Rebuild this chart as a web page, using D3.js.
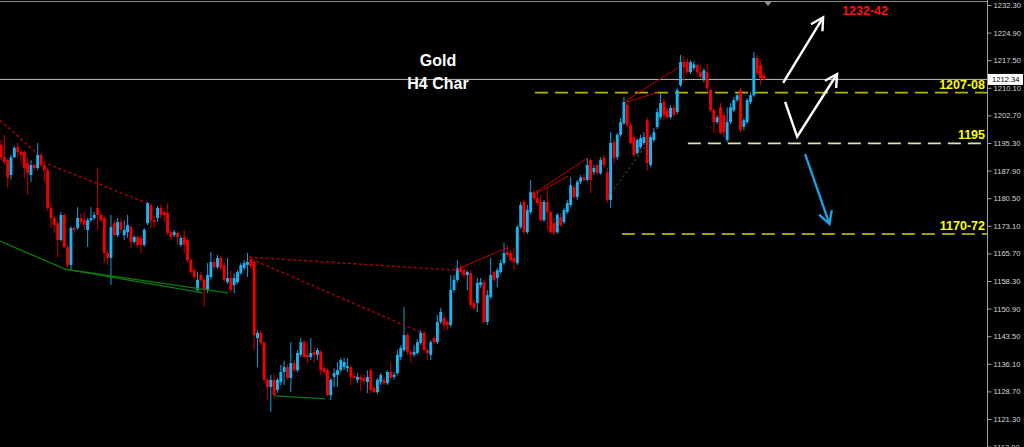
<!DOCTYPE html>
<html><head><meta charset="utf-8">
<script src="https://cdn.jsdelivr.net/npm/d3@7"></script>
<style>html,body{margin:0;padding:0;background:#000;overflow:hidden}svg{display:block}</style>
</head><body><svg id="c" width="1024" height="447"></svg>
<script>
// ---- Gold H4 candles ----
const open = [1194.8,1191.5,1190.7,1186.7,1191.5,1194.2,1192.9,1192.9,1189.9,1186.7,1189.4,1188.6,1192.1,1189.4,1188.0,1177.9,1175.2,1173.8,1169.3,1176.0,
1167.4,1162.6,1172.5,1172.5,1175.2,1174.6,1172.0,1174.6,1175.2,1177.9,1176.0,1175.2,1165.8,1164.5,1173.8,1170.6,1174.1,1170.6,1171.4,1172.8,
1168.8,1170.1,1169.8,1168.0,1173.8,1178.7,1174.6,1175.2,1177.9,1176.8,1176.5,1171.4,1170.6,1171.2,1168.0,1170.1,1169.3,1163.9,1161.2,1155.9,
1159.9,1158.6,1155.9,1159.4,1163.4,1162.0,1164.5,1162.6,1158.0,1159.1,1157.2,1158.0,1160.4,1161.8,1162.6,1163.9,1163.4,1143.0,1144.4,1141.7,
1131.8,1129.9,1131.8,1129.1,1131.2,1133.9,1135.2,1132.3,1136.3,1134.4,1138.5,1141.9,1138.5,1137.9,1139.3,1138.5,1139.3,1134.9,1134.4,1127.7,
1132.6,1133.1,1134.4,1135.2,1134.9,1135.2,1132.8,1131.8,1132.6,1132.3,1131.2,1134.4,1129.6,1128.5,1131.2,1131.8,1130.9,1133.9,1132.6,1133.6,
1137.9,1139.8,1143.8,1139.3,1138.5,1139.0,1141.7,1144.4,1139.8,1138.5,1143.0,1141.9,1147.3,1148.4,1147.3,1146.5,1155.9,1158.6,1161.8,1161.2,
1159.9,1160.4,1152.4,1152.4,1157.2,1158.0,1147.3,1154.0,1160.7,1159.1,1160.7,1163.1,1166.1,1165.8,1164.5,1163.1,1172.8,1179.5,1171.4,1176.8,
1182.1,1180.5,1179.5,1174.6,1179.5,1176.8,1173.8,1171.4,1175.4,1174.1,1176.8,1178.7,1183.5,1180.8,1184.9,1186.1,1185.4,1190.7,1187.5,1189.4,
1187.2,1191.3,1187.5,1180.0,1195.5,1191.5,1197.5,1200.6,1205.5,1200.1,1196.9,1192.6,1194.2,1195.3,1201.4,1189.4,1196.1,1199.6,1202.2,1206.3,
1204.1,1202.2,1204.7,1203.6,1210.8,1217.0,1217.0,1214.3,1215.4,1216.2,1214.3,1212.2,1214.3,1209.5,1204.1,1200.9,1204.9,1202.8,1196.1,1200.9,
1204.1,1206.8,1209.5,1199.6,1200.9,1206.3,1208.1,1218.1,1216.2,1213.5];
const high = [1196.1,1197.5,1191.3,1192.1,1194.5,1195.3,1193.4,1193.4,1191.3,1190.7,1189.9,1195.3,1192.6,1189.9,1188.6,1179.5,1175.7,1174.3,1176.8,1176.5,
1168.0,1173.0,1173.0,1178.1,1176.5,1176.8,1175.2,1178.1,1176.8,1188.6,1176.5,1175.7,1166.6,1176.0,1174.6,1175.2,1175.2,1174.6,1176.0,1173.3,
1170.6,1170.6,1170.4,1172.5,1179.5,1179.2,1176.0,1178.4,1178.9,1177.3,1179.2,1172.0,1172.0,1171.7,1170.4,1172.0,1169.8,1164.5,1161.8,1160.7,
1160.7,1159.1,1163.1,1166.1,1164.5,1165.3,1165.0,1163.4,1164.5,1161.2,1160.4,1161.2,1163.1,1163.9,1165.8,1164.7,1163.9,1145.2,1144.9,1142.2,
1132.3,1133.1,1133.1,1132.3,1135.8,1136.9,1136.0,1141.9,1137.1,1139.8,1143.0,1142.5,1141.7,1143.0,1140.6,1140.3,1139.8,1135.8,1134.9,1132.3,
1134.9,1136.6,1137.7,1137.7,1137.7,1135.8,1133.9,1133.6,1133.1,1133.1,1134.4,1134.9,1130.4,1132.3,1133.6,1132.6,1134.4,1136.3,1133.9,1139.8,
1141.1,1151.3,1144.4,1139.8,1141.1,1142.7,1145.2,1144.9,1140.3,1142.5,1143.6,1149.2,1151.1,1149.7,1147.8,1159.9,1159.9,1163.9,1162.6,1162.3,
1161.2,1161.2,1153.2,1159.1,1159.1,1158.6,1155.9,1164.5,1161.2,1161.8,1163.9,1168.5,1168.0,1166.6,1167.2,1173.3,1179.5,1180.0,1178.7,1185.4,
1182.7,1182.7,1181.4,1180.0,1183.3,1177.3,1175.2,1176.5,1176.5,1177.9,1180.0,1186.1,1184.0,1185.4,1186.7,1187.0,1191.3,1191.3,1189.4,1189.9,
1191.5,1192.1,1188.6,1198.2,1196.6,1198.0,1202.0,1207.6,1206.8,1200.9,1197.7,1196.6,1197.5,1198.2,1202.2,1197.5,1199.3,1204.7,1208.7,1207.3,
1204.9,1205.5,1205.5,1210.0,1218.9,1218.6,1218.1,1217.5,1217.3,1216.7,1216.2,1215.4,1216.4,1210.0,1204.7,1202.8,1206.0,1203.6,1204.9,1206.0,
1207.6,1208.7,1210.0,1202.0,1207.3,1208.9,1219.7,1218.9,1217.5,1214.3];
const low = [1190.7,1189.4,1183.3,1185.6,1191.3,1191.3,1189.9,1185.9,1181.4,1184.9,1188.0,1188.0,1188.8,1184.9,1177.3,1172.5,1171.2,1164.7,1168.8,1167.2,
1162.0,1161.2,1171.2,1172.0,1173.3,1172.0,1167.4,1174.1,1174.6,1172.0,1174.1,1163.1,1162.6,1157.2,1170.1,1170.1,1171.2,1169.3,1169.8,1167.2,
1168.2,1167.4,1165.8,1167.4,1173.3,1172.5,1172.5,1174.1,1175.2,1174.1,1170.6,1169.5,1170.1,1168.0,1167.4,1165.8,1163.4,1160.2,1158.6,1155.1,
1158.0,1151.6,1155.1,1158.8,1161.2,1161.5,1161.2,1157.8,1157.5,1155.1,1155.1,1157.5,1159.9,1161.2,1159.4,1161.8,1139.8,1135.2,1141.1,1130.9,
1126.4,1123.2,1126.9,1128.3,1130.4,1130.4,1131.8,1128.5,1133.9,1133.9,1137.9,1137.7,1136.3,1137.1,1136.3,1137.1,1133.1,1133.1,1127.5,1126.4,
1129.9,1129.9,1133.9,1134.4,1133.9,1130.4,1131.8,1130.9,1128.8,1130.4,1128.3,1128.3,1128.3,1128.0,1130.4,1130.4,1130.4,1131.8,1131.8,1133.1,
1137.1,1139.3,1138.5,1136.3,1137.9,1138.5,1141.1,1139.3,1137.1,1137.1,1141.4,1141.4,1146.8,1145.2,1145.2,1146.0,1155.3,1158.0,1159.9,1159.1,
1155.9,1151.1,1150.5,1150.0,1156.4,1147.0,1146.5,1153.5,1158.0,1156.7,1160.2,1162.6,1164.7,1163.4,1161.2,1162.6,1172.2,1170.6,1170.9,1176.2,
1180.0,1178.7,1174.1,1174.1,1172.0,1170.9,1170.6,1170.9,1172.8,1173.6,1176.2,1178.1,1180.3,1180.0,1184.3,1184.9,1184.9,1181.9,1186.7,1186.7,
1186.7,1188.6,1179.2,1177.9,1189.9,1190.7,1196.9,1200.1,1199.6,1194.8,1191.5,1192.1,1193.7,1194.8,1188.0,1188.8,1195.5,1199.0,1201.7,1201.4,
1201.7,1201.7,1202.2,1203.0,1210.3,1211.6,1213.8,1213.8,1214.8,1213.8,1212.4,1211.6,1209.5,1203.6,1198.0,1200.4,1197.5,1196.9,1195.5,1200.4,
1203.6,1206.3,1198.2,1198.8,1200.4,1205.7,1207.6,1213.5,1210.8,1212.2];
const close = [1191.5,1190.2,1186.1,1191.5,1194.0,1192.9,1192.1,1188.6,1187.2,1189.4,1188.6,1192.1,1189.4,1188.0,1177.9,1175.2,1173.3,1169.3,1176.0,1167.4,
1162.6,1172.5,1172.0,1175.2,1174.1,1173.3,1174.6,1175.2,1176.0,1176.0,1174.6,1165.8,1164.5,1172.8,1170.6,1174.1,1172.0,1172.0,1173.3,1168.8,
1170.1,1168.0,1168.0,1172.0,1179.2,1174.6,1174.1,1177.9,1176.0,1176.0,1171.2,1170.1,1171.4,1170.1,1169.8,1168.0,1163.9,1160.7,1159.4,1158.6,
1158.6,1155.9,1159.9,1163.4,1162.0,1164.5,1161.8,1158.6,1159.1,1155.9,1159.1,1160.7,1162.6,1163.1,1163.4,1162.3,1143.8,1144.4,1141.7,1131.8,
1129.9,1131.8,1127.7,1131.8,1133.9,1135.2,1132.3,1136.3,1134.4,1139.0,1141.9,1137.9,1137.9,1139.0,1138.5,1139.8,1134.4,1133.9,1127.7,1131.8,
1133.6,1134.4,1137.1,1136.6,1135.5,1132.6,1132.3,1132.6,1131.8,1131.5,1132.6,1129.1,1128.5,1131.8,1133.1,1130.9,1133.9,1132.3,1133.1,1138.5,
1140.3,1143.8,1139.3,1138.5,1139.3,1141.9,1144.4,1139.8,1139.0,1141.9,1141.9,1147.3,1150.0,1146.5,1146.5,1155.9,1158.6,1161.8,1160.7,1159.9,
1160.7,1151.9,1151.1,1157.8,1158.0,1147.3,1154.5,1159.9,1158.6,1161.2,1163.1,1165.8,1165.3,1163.9,1163.4,1172.8,1178.7,1171.4,1177.3,1182.1,
1180.5,1179.2,1174.6,1179.5,1176.8,1171.4,1171.2,1176.0,1173.3,1177.3,1179.2,1184.0,1180.8,1184.9,1186.1,1185.4,1189.4,1185.4,1188.6,1187.2,
1190.7,1189.4,1180.0,1195.3,1191.3,1197.5,1200.9,1206.3,1200.1,1195.3,1192.1,1196.1,1196.6,1196.9,1189.9,1196.9,1198.2,1203.6,1206.0,1202.8,
1202.2,1204.7,1202.8,1209.5,1217.0,1215.6,1214.3,1217.0,1216.4,1214.3,1213.0,1214.8,1210.0,1204.1,1200.9,1202.2,1198.0,1198.2,1200.9,1204.9,
1206.8,1208.1,1198.8,1201.4,1206.8,1208.1,1218.1,1214.0,1212.7,1212.34];

const priceTicks = [1232.3,1224.9,1217.5,1210.1,1202.7,1195.3,1187.9,1180.5,1173.1,1165.7,1158.3,1150.9,1143.5,1136.1,1128.7,1121.3,1113.9];
const lastPrice = 1212.34;

// support / resistance levels
const levelPrices = [1208.8, 1195.2, 1170.9];
const levelStart  = [160.3, 206.2, 186.4];   // bar index where the line starts
const levelLabels = ["1207-08", "1195", "1170-72"];

// trend lines as [barIndex, price] points
const redDashedLines = [
  [[-0.3,1201.4],[10.5,1192.8]],
  [[12.6,1190.2],[43.8,1179.2]],
  [[74.5,1164.7],[136.3,1161.2]],
  [[75.1,1164.2],[125.8,1144.6]]
];
const redSolidLines = [
  [[136.3,1161.2],[151.9,1167.2]],
  [[160.6,1182.1],[175.6,1191.0]],
  [[160.9,1181.9],[170.2,1186.4]],
  [[187.3,1206.5],[203.5,1215.6]],
  [[187.9,1206.3],[197.2,1208.9]]
];
const greenLines = [
  [[-0.3,1169.0],[19.2,1161.5],[60.6,1155.1]],
  [[19.2,1161.5],[68.1,1155.1]],
  [[82.3,1127.5],[97.3,1126.7]]
];
const greenDotted = [[182.2,1180.8],[194.2,1195.3]];

// forecast arrows
const whiteArrow1 = [[234.8,1211.4],[246.8,1229.0]];
const whiteArrow2 = [[235.4,1206.3],[239.0,1197.0],[251.0,1213.8]];
const blueArrow   = [[241.4,1192.3],[248.7,1173.6]];
const targetLabel = {text:"1232-42", bar:259.4, price:1229.6};
const titleLines = ["Gold", "H4 Char"];

// ---- drawing ----
const svg = d3.select("#c");
const plotRight = 987;
const x = d3.scaleLinear().domain([0, 296]).range([1, plotRight]);
const y = d3.scaleLinear().domain([1113.9, 1232.3]).range([446.6, 5]);
const line = d3.line().x(d => x(d[0])).y(d => y(d[1]));

svg.append("rect").attr("width", 1024).attr("height", 447).attr("fill", "#000");

// top border
svg.append("line").attr("x1", 0).attr("x2", plotRight).attr("y1", 1.5).attr("y2", 1.5)
  .attr("stroke", "#8c8c8c").attr("stroke-width", 1);
svg.append("path").attr("d", "M764,1 L772,1 L768,6 Z").attr("fill", "#8a9aaa");

// current price line
svg.append("line").attr("x1", 0).attr("x2", plotRight)
  .attr("y1", y(lastPrice)).attr("y2", y(lastPrice))
  .attr("stroke", "#b8b8b8").attr("stroke-width", 1);

// levels
const levelColors = ["#b4b400", "#e2e2b8", "#d2d200"];
levelPrices.forEach((p, k) => {
  svg.append("line").attr("x1", x(levelStart[k])).attr("x2", plotRight)
    .attr("y1", y(p)).attr("y2", y(p))
    .attr("stroke", levelColors[k]).attr("stroke-width", 1.6)
    .attr("stroke-dasharray", "13,7");
});

// candles
const data = open.map((o, i) => ({i, o, h: high[i], l: low[i], c: close[i]}));
const g = svg.append("g");
data.forEach(d => {
  const up = d.c >= d.o;
  const cx = x(d.i);
  const hi = Math.max(d.h, d.o, d.c), lo = Math.min(d.l, d.o, d.c);
  g.append("line").attr("x1", cx).attr("x2", cx).attr("y1", y(hi)).attr("y2", y(lo))
    .attr("stroke", up ? "#1690cc" : "#b80000").attr("stroke-width", 1.1);
  const top = y(Math.max(d.o, d.c)), bot = y(Math.min(d.o, d.c));
  g.append("rect").attr("x", cx - 1.45).attr("width", 2.9)
    .attr("y", top).attr("height", Math.max(1, bot - top))
    .attr("fill", up ? "#1ab4f0" : "#f00000");
});

// trend lines
redDashedLines.forEach(pts => svg.append("path").attr("d", line(pts)).attr("fill", "none")
  .attr("stroke", "#b00000").attr("stroke-width", 1.4).attr("stroke-dasharray", "3,2.5"));
redSolidLines.forEach(pts => svg.append("path").attr("d", line(pts)).attr("fill", "none")
  .attr("stroke", "#c00000").attr("stroke-width", 1));
greenLines.forEach(pts => svg.append("path").attr("d", line(pts)).attr("fill", "none")
  .attr("stroke", "#0c7a0c").attr("stroke-width", 1.3));
svg.append("path").attr("d", line(greenDotted)).attr("fill", "none")
  .attr("stroke", "#1a8f1a").attr("stroke-width", 1).attr("stroke-dasharray", "2,3");

// arrows
function arrow(pts, color) {
  svg.append("path").attr("d", line(pts)).attr("fill", "none")
    .attr("stroke", color).attr("stroke-width", 2.4).attr("stroke-linejoin", "miter");
  const n = pts.length;
  const tx = x(pts[n-1][0]), ty = y(pts[n-1][1]);
  const px = x(pts[n-2][0]), py = y(pts[n-2][1]);
  const ang = Math.atan2(py - ty, px - tx);
  const len = 14, spread = 0.5;
  const a1 = [tx + len * Math.cos(ang + spread), ty + len * Math.sin(ang + spread)];
  const a2 = [tx + len * Math.cos(ang - spread), ty + len * Math.sin(ang - spread)];
  svg.append("path").attr("d", `M${a1[0]},${a1[1]} L${tx},${ty} L${a2[0]},${a2[1]}`)
    .attr("fill", "none").attr("stroke", color).attr("stroke-width", 2.4);
}
arrow(whiteArrow1, "#ffffff");
arrow(whiteArrow2, "#ffffff");
arrow(blueArrow, "#1e9fe0");

// labels
svg.append("text").attr("x", x(targetLabel.bar)).attr("y", y(targetLabel.price))
  .attr("text-anchor", "middle").attr("fill", "#ff1010")
  .attr("font-family", "Liberation Sans, Arial, sans-serif").attr("font-weight", "bold")
  .attr("font-size", 12.5).text(targetLabel.text);
levelPrices.forEach((p, k) => {
  svg.append("text").attr("x", 985).attr("y", y(p) - 4).attr("text-anchor", "end")
    .attr("fill", "#ffff00").attr("font-family", "Liberation Sans, Arial, sans-serif")
    .attr("font-weight", "bold").attr("font-size", 12.5).text(levelLabels[k]);
});
titleLines.forEach((t, k) => {
  svg.append("text").attr("x", 438).attr("y", 66 + k * 23).attr("text-anchor", "middle")
    .attr("fill", "#ffffff").attr("font-family", "Liberation Sans, Arial, sans-serif")
    .attr("font-weight", "bold").attr("font-size", 16).text(t);
});

// right axis
svg.append("rect").attr("x", plotRight + 0.5).attr("y", 0).attr("width", 1024 - plotRight).attr("height", 447).attr("fill", "#000");
const axis = d3.axisRight(y).tickValues(priceTicks).tickFormat(d3.format(".2f")).tickSize(4).tickPadding(2);
const ax = svg.append("g").attr("transform", `translate(${plotRight + 0.5},0)`).call(axis);
ax.select(".domain").attr("stroke", "#a0a0a0").attr("d", "M0,0 V447");
ax.selectAll(".tick line").attr("stroke", "#a0a0a0");
ax.selectAll(".tick text").attr("fill", "#d8d8d8").attr("font-family", "Liberation Sans, Arial, sans-serif").attr("font-size", 7.6);

// current price tag
svg.append("rect").attr("x", plotRight + 1).attr("y", y(lastPrice) - 5.5).attr("width", 35).attr("height", 11).attr("fill", "#ffffff");
svg.append("text").attr("x", plotRight + 5).attr("y", y(lastPrice) + 2.8).attr("fill", "#000")
  .attr("font-family", "Liberation Sans, Arial, sans-serif").attr("font-size", 7.6).text(d3.format(".2f")(lastPrice));
</script></body></html>
